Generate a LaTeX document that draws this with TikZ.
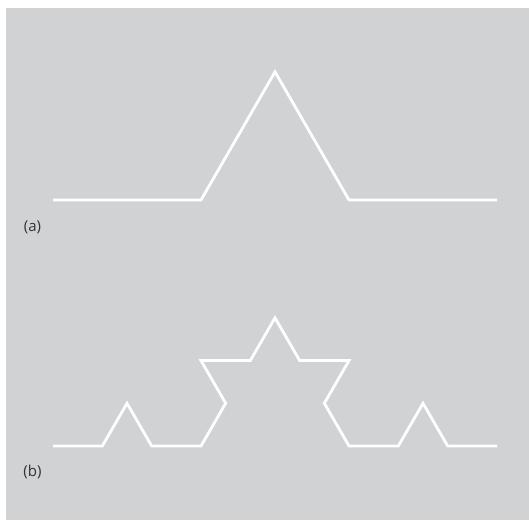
\documentclass[tikz,border=0pt]{standalone}
\usepackage{fontspec}
\setmainfont{Open Sans}
\definecolor{bggray}{RGB}{209,210,212}
\definecolor{labelgray}{RGB}{50,50,52}
\begin{document}
\begin{tikzpicture}[x=1pt,y=1pt,
  koch/.style={draw=white,line width=2.8pt,line join=miter,line cap=butt},
  lab/.style={font=\fontsize{15}{18}\selectfont,text=labelgray,inner sep=0pt}]
\useasboundingbox (0,0) rectangle (529,520);
\fill[bggray] (6,0) rectangle (529,512);
% (a) Koch curve, level 1
\def\La{148pt}
\draw[koch] (53pt,320pt) -- ++(0:\La) -- ++(60:\La) -- ++(-60:\La) -- ++(0:\La);
% (b) Koch curve, level 2
\def\Lb{49.333pt}
\draw[koch] (53pt,74pt)
  -- ++(0:\Lb) -- ++(60:\Lb) -- ++(-60:\Lb) -- ++(0:\Lb)
  -- ++(60:\Lb) -- ++(120:\Lb) -- ++(0:\Lb) -- ++(60:\Lb)
  -- ++(-60:\Lb) -- ++(0:\Lb) -- ++(-120:\Lb) -- ++(-60:\Lb)
  -- ++(0:\Lb) -- ++(60:\Lb) -- ++(-60:\Lb) -- ++(0:\Lb);
\node[lab] (la) at (32.5,293) {(a)};
\node[lab] (lb) at (32.5,48) {(b)};
\end{tikzpicture}
\end{document}
